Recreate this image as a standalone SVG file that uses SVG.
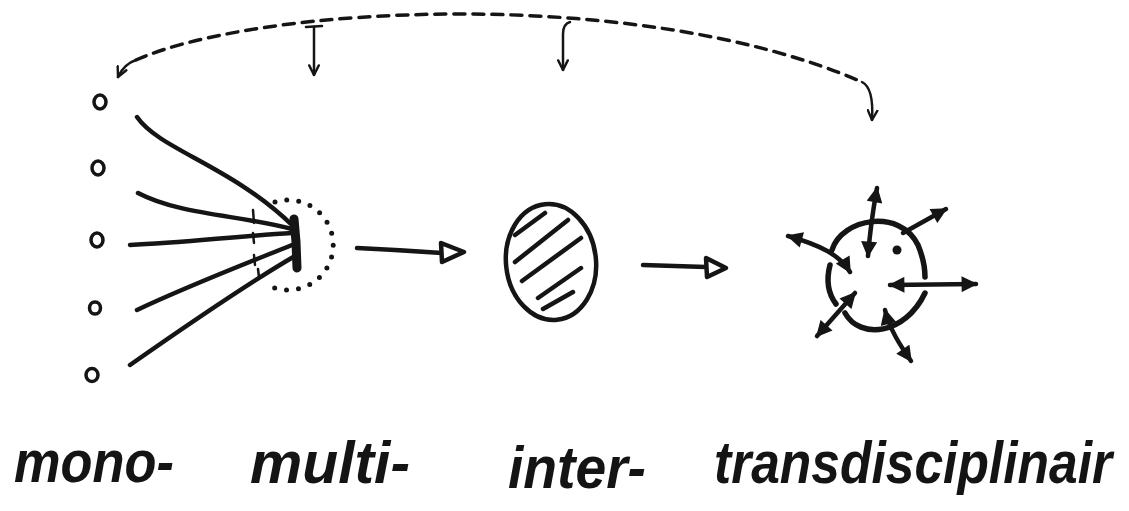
<svg xmlns="http://www.w3.org/2000/svg" width="1129" height="511" viewBox="0 0 1129 511">
<style>
.ink{fill:none;stroke:#151515;stroke-linecap:round;stroke-linejoin:round}
.thin{stroke-width:2.5}
.mid{stroke-width:3.5}
.thick{stroke-width:4.5}
.heavy{stroke-width:5.5}
.dash{stroke-dasharray:11 8;stroke-width:3.5}
.dots{stroke-dasharray:0 12;stroke-width:5}
.lbl{font-family:"Liberation Sans",Arial,sans-serif;font-style:italic;font-weight:bold;font-size:52px;fill:#141414}
</style>
<defs>
<marker id="v" viewBox="0 0 10 10" refX="9" refY="5" markerWidth="12" markerHeight="12" markerUnits="userSpaceOnUse" orient="auto-start-reverse">
<path d="M1,1 L9,5 L1,9" fill="none" stroke="#151515" stroke-width="2" stroke-linecap="round"/>
</marker>
<marker id="f" viewBox="0 0 10 10" refX="9" refY="5" markerWidth="17" markerHeight="16" markerUnits="userSpaceOnUse" orient="auto-start-reverse">
<path d="M0,0 L10,5 L0,10 Z" fill="#151515"/>
</marker>
</defs>
<rect width="1129" height="511" fill="#ffffff"/>

<g id="connectors">
<path class="ink dash" d="M136,60 C260,5 640,-15 862,82"/>
<path class="ink thin" d="M136,60 Q124,64 118,77" marker-end="url(#v)"/>
<path class="ink thin" d="M862,82 Q874,88 872,120" marker-end="url(#v)"/>
<path class="ink thin" d="M314,27 L314,75" marker-end="url(#v)"/>
<path class="ink thin" d="M306,27 L322,26"/>
<path class="ink thin" d="M570,22 Q563,24 563,34 L563,70" marker-end="url(#v)"/>
<path class="ink thick" d="M357,248 Q400,250 442,253"/>
<polygon class="ink thick" points="441,243 464,252 442,262" style="fill:#fff"/>
<path class="ink thick" d="M643,265 L706,267"/>
<polygon class="ink thick" points="706,258 726,268 707,277" style="fill:#fff"/>
</g>

<g id="mono">
<ellipse class="ink mid" cx="100" cy="102" rx="6" ry="7"/>
<ellipse class="ink mid" cx="98" cy="168" rx="6" ry="7"/>
<ellipse class="ink mid" cx="97" cy="240" rx="6" ry="7"/>
<ellipse class="ink mid" cx="95" cy="308" rx="5.5" ry="6"/>
<ellipse class="ink mid" cx="92" cy="375" rx="6" ry="6.5"/>
</g>

<g id="multi">
<path class="ink thick" d="M137,117 C160,150 230,165 293,226"/>
<path class="ink thick" d="M138,193 C180,215 240,215 292,229"/>
<path class="ink thick" d="M130,245 C180,243 240,236 292,233"/>
<path class="ink thick" d="M137,310 C190,285 250,262 292,245"/>
<path class="ink thick" d="M130,365 C180,330 250,282 295,256"/>
<path class="ink" style="stroke-width:9" d="M294,219 L296,242 L297,268"/>
<path class="ink thin" d="M253,210 L254,223 M253,233 L254,243 M254,255 L255,265 M258,269 L259,277"/>
<path class="ink dots" d="M275,202 A45,45 0 1 1 272,287"/>
</g>

<g id="inter">
<ellipse class="ink thick" cx="551" cy="262" rx="45" ry="58" transform="rotate(-6 551 262)"/>
<path class="ink thick" d="M515,235 L545,213 M515,262 L568,220 M522,281 L581,238 M538,298 L581,268 M543,309 L573,292"/>
</g>

<g id="trans">
<path class="ink heavy" d="M832,250 C842,218 900,208 918,245 Q925,262 925,277"/>
<path class="ink heavy" d="M830,265 Q824,288 836,304"/>
<path class="ink heavy" d="M845,313 C860,340 905,335 925,293"/>
<path class="ink thick" d="M868,256 C870,230 873,210 877,188" marker-start="url(#f)" marker-end="url(#f)"/>
<path class="ink thick" d="M903,233 L946,209" marker-end="url(#f)"/>
<path class="ink thick" d="M850,272 C840,255 820,245 788,236" marker-start="url(#f)" marker-end="url(#f)"/>
<path class="ink thick" d="M890,285 L976,284" marker-start="url(#f)" marker-end="url(#f)"/>
<path class="ink thick" d="M855,293 L817,336" marker-start="url(#f)" marker-end="url(#f)"/>
<path class="ink thick" d="M885,310 C890,330 900,345 911,361" marker-start="url(#f)" marker-end="url(#f)"/>
<circle cx="897" cy="250" r="4.5" fill="#151515"/>
</g>

<g id="labels">
<text class="lbl" transform="translate(14,482) scale(1,1.15)" textLength="160" lengthAdjust="spacingAndGlyphs">mono-</text>
<text class="lbl" transform="translate(250,483) scale(1,1.15)" textLength="160" lengthAdjust="spacingAndGlyphs">multi-</text>
<text class="lbl" transform="translate(508,488) scale(1,1.15)" textLength="138" lengthAdjust="spacingAndGlyphs">inter-</text>
<text class="lbl" transform="translate(714,483) scale(1,1.15)" textLength="398" lengthAdjust="spacingAndGlyphs">transdisciplinair</text>
</g>
</svg>
